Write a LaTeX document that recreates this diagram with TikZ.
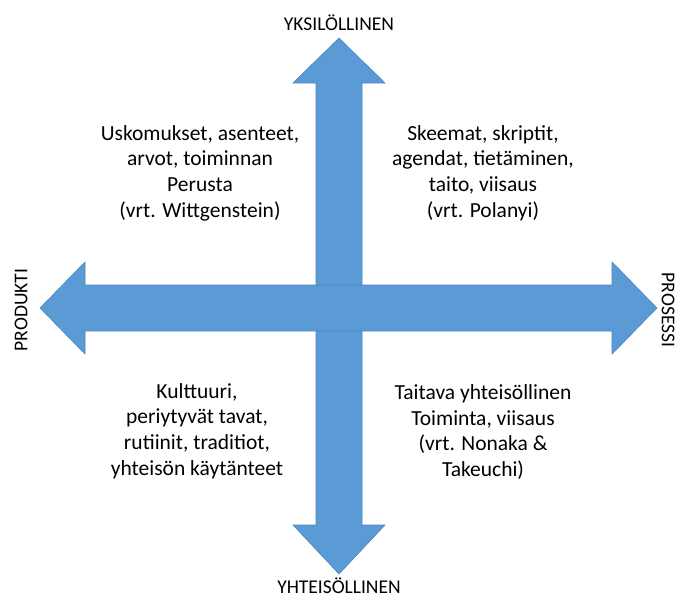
\documentclass[tikz,border=0pt]{standalone}
\usepackage{fontspec}
\setmainfont{Carlito}
\definecolor{arrowblue}{HTML}{5B9BD5}
\definecolor{arrowedge}{HTML}{4A86BE}

\begin{document}
\begin{tikzpicture}[x=1pt,y=-1pt,
    arrowshape/.style={fill=arrowblue,draw=arrowedge,line width=.6pt,line join=miter},
    quadtext/.style={align=center,font=\fontsize{21.5}{25.7}\selectfont},
    axislabel/.style={font=\fontsize{19.5}{22}\selectfont}]
  \useasboundingbox (0,0) rectangle (676,598);
  \def\cx{339}
  \def\cy{308}
  \def\s{23}
  \def\h{46}
  % vertical arrow
  \draw[arrowshape] (\cx,38) -- (\cx+\h,83) -- (\cx+\s,83) -- (\cx+\s,525)
    -- (\cx+\h,525) -- (\cx,574) -- (\cx-\h,525) -- (\cx-\s,525)
    -- (\cx-\s,83) -- (\cx-\h,83) -- cycle;
  % horizontal arrow
  \draw[arrowshape] (40,\cy) -- (85,\cy-\h) -- (85,\cy-\s) -- (612,\cy-\s)
    -- (612,\cy-\h) -- (657,\cy) -- (612,\cy+\h) -- (612,\cy+\s)
    -- (85,\cy+\s) -- (85,\cy+\h) -- cycle;
  % axis labels
  \node[axislabel] (yksi) at (\cx,23) {YKSILÖLLINEN};
  \node[axislabel] (yhteis) at (\cx,586) {YHTEISÖLLINEN};
  \node[axislabel,rotate=90] (produkti) at (21,310) {PRODUKTI};
  \node[axislabel,rotate=-90] (prosessi) at (668,310) {PROSESSI};
  % quadrant texts
  \node[quadtext] (uskomukset) at (200,173) {Uskomukset, asenteet,\\arvot, toiminnan\\Perusta\\(vrt. Wittgenstein)};
  \node[quadtext] (skeemat) at (483,173) {Skeemat, skriptit,\\agendat, tietäminen,\\taito, viisaus\\(vrt. Polanyi)};
  \node[quadtext] (kulttuuri) at (197,431) {Kulttuuri,\\periytyvät tavat,\\rutiinit, traditiot,\\yhteisön käytänteet};
  \node[quadtext] (taitava) at (483,432) {Taitava yhteisöllinen\\Toiminta, viisaus\\(vrt. Nonaka \&\\Takeuchi)};
\end{tikzpicture}
\end{document}
